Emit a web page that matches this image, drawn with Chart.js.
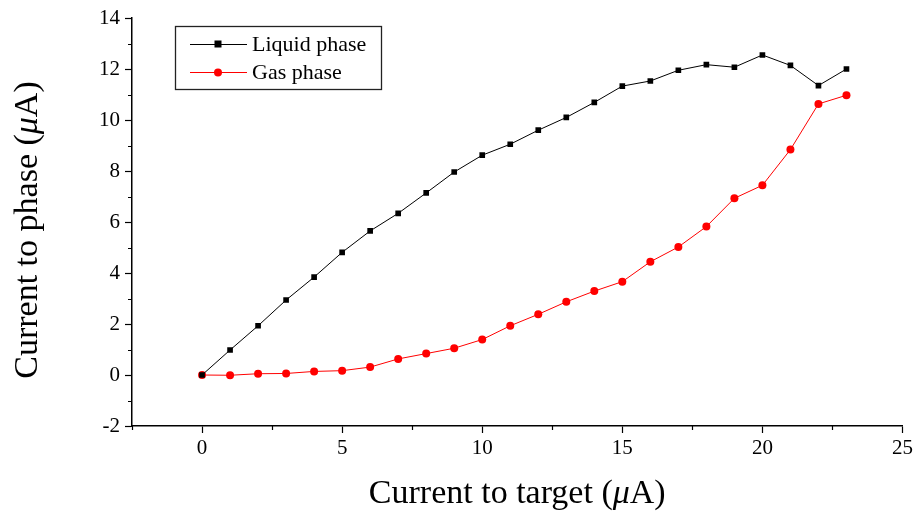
<!DOCTYPE html>
<html>
<head>
<meta charset="utf-8">
<script src="https://cdn.jsdelivr.net/npm/chart.js@4"></script>
<style>
  html, body { margin: 0; padding: 0; background: #fff; }
  #wrap { width: 916px; height: 516px; }
</style>
</head>
<body>
<div id="wrap"><canvas id="chart"></canvas></div>
<script>
// Data
const targetCurrent = [0, 1, 2, 3, 4, 5, 6, 7, 8, 9, 10, 11, 12, 13, 14, 15, 16, 17, 18, 19, 20, 21, 22, 23];
const liquidPhase = [0, 0.98, 1.93, 2.94, 3.84, 4.81, 5.65, 6.34, 7.14, 7.96, 8.62, 9.05, 9.6, 10.1, 10.69, 11.33, 11.53, 11.95, 12.17, 12.07, 12.55, 12.14, 11.35, 12.0];
const gasPhase = [0, -0.01, 0.05, 0.06, 0.14, 0.17, 0.31, 0.63, 0.84, 1.05, 1.39, 1.93, 2.38, 2.87, 3.29, 3.66, 4.44, 5.02, 5.82, 6.93, 7.44, 8.84, 10.63, 10.97];
const seriesNames = ['Liquid phase', 'Gas phase'];
const xTicks = [0, 5, 10, 15, 20, 25];

const serif = "'Liberation Serif', 'Times New Roman', serif";

function toPoints(ys) {
    return targetCurrent.map((x, i) => ({ x: x, y: ys[i] }));
}

// axis titles, with an italic mu like the original
function drawTitle(ctx, parts, x, y, size) {
    let total = 0;
    parts.forEach(p => {
        ctx.font = (p[1] ? 'italic ' : '') + size + 'px ' + serif;
        total += ctx.measureText(p[0]).width;
    });
    let cx = x - total / 2;
    parts.forEach(p => {
        ctx.font = (p[1] ? 'italic ' : '') + size + 'px ' + serif;
        ctx.fillText(p[0], cx, y);
        cx += ctx.measureText(p[0]).width;
    });
}

const axisTitles = {
    id: 'axisTitles',
    afterDraw(chart) {
        const ctx = chart.ctx;
        const area = chart.chartArea;
        ctx.save();
        ctx.fillStyle = '#000';
        ctx.textBaseline = 'alphabetic';
        ctx.textAlign = 'left';
        drawTitle(ctx, [['Current to target (', false], ['μ', true], ['A)', false]],
            (area.left + area.right) / 2, 503, 34);
        ctx.translate(37, 230);
        ctx.rotate(-Math.PI / 2);
        drawTitle(ctx, [['Current to phase (', false], ['μ', true], ['A)', false]], 0, 0, 34);
        ctx.restore();
    }
};

// short minor ticks, drawn outward like the original plot
const minorTicks = {
    id: 'minorTicks',
    afterDraw(chart) {
        const ctx = chart.ctx;
        const xs = chart.scales.x;
        const ys = chart.scales.y;
        ctx.save();
        ctx.strokeStyle = '#000';
        ctx.lineWidth = 1.2;
        ctx.beginPath();
        for (let v = -2.5; v <= 25; v += 5) {
            const px = Math.round(xs.getPixelForValue(v)) + 0.5;
            ctx.moveTo(px, xs.top);
            ctx.lineTo(px, xs.top + 4);
        }
        for (let v = -1; v <= 13; v += 2) {
            const py = Math.round(ys.getPixelForValue(v)) + 0.5;
            ctx.moveTo(ys.right, py);
            ctx.lineTo(ys.right - 4, py);
        }
        ctx.stroke();
        ctx.restore();
    }
};

// legend box in the upper left corner of the plot
const boxLegend = {
    id: 'boxLegend',
    afterDraw(chart) {
        const ctx = chart.ctx;
        ctx.save();
        ctx.strokeStyle = '#222';
        ctx.lineWidth = 1.3;
        ctx.strokeRect(175.5, 26.5, 206, 63);
        ctx.font = '22px ' + serif;
        ctx.textBaseline = 'middle';
        chart.data.datasets.forEach((ds, i) => {
            const y = 44 + i * 28;
            ctx.strokeStyle = ds.borderColor;
            ctx.lineWidth = 1;
            ctx.beginPath();
            ctx.moveTo(190, y + 0.5);
            ctx.lineTo(247, y + 0.5);
            ctx.stroke();
            ctx.fillStyle = ds.pointBackgroundColor;
            if (ds.pointStyle === 'rect') {
                ctx.fillRect(214.5, y - 3.5, 7, 7);
            } else {
                ctx.beginPath();
                ctx.arc(218, y + 0.5, 4, 0, Math.PI * 2);
                ctx.fill();
            }
            ctx.fillStyle = '#000';
            ctx.fillText(ds.label, 252, y + 1);
        });
        ctx.restore();
    }
};

new Chart(document.getElementById('chart'), {
    type: 'line',
    data: {
        datasets: [{
            label: seriesNames[0],
            data: toPoints(liquidPhase),
            borderColor: '#000',
            borderWidth: 1,
            pointStyle: 'rect',
            pointRadius: 4,
            pointBackgroundColor: '#000',
            pointBorderColor: '#000',
            pointBorderWidth: 0,
        }, {
            label: seriesNames[1],
            data: toPoints(gasPhase),
            borderColor: '#ff0000',
            borderWidth: 1,
            pointStyle: 'circle',
            pointRadius: 4,
            pointBackgroundColor: '#ff0000',
            pointBorderColor: '#ff0000',
            pointBorderWidth: 0,
        }],
    },
    options: {
        responsive: true,
        maintainAspectRatio: false,
        animation: false,
        layout: { padding: { left: 0, right: 13, top: 18, bottom: 0 } },
        plugins: {
            legend: { display: false },
            tooltip: { enabled: false },
        },
        scales: {
            x: {
                type: 'linear',
                min: -2.5,
                max: 25,
                afterFit: scale => { scale.height = 90; },
                afterBuildTicks: scale => {
                    scale.ticks = xTicks.map(v => ({ value: v }));
                },
                border: { color: '#000', width: 1.5 },
                grid: { drawOnChartArea: false, tickLength: 7, tickColor: '#000', tickWidth: 1.2 },
                ticks: { color: '#000', padding: 3, font: { family: serif, size: 21 }, maxRotation: 0 },
            },
            y: {
                min: -2,
                max: 14,
                afterFit: scale => { scale.width = 132; },
                border: { color: '#000', width: 1.5 },
                grid: { drawOnChartArea: false, tickLength: 7, tickColor: '#000', tickWidth: 1.2 },
                ticks: { stepSize: 2, color: '#000', padding: 5, font: { family: serif, size: 21 } },
            },
        },
    },
    plugins: [minorTicks, boxLegend, axisTitles],
});
</script>
</body>
</html>
